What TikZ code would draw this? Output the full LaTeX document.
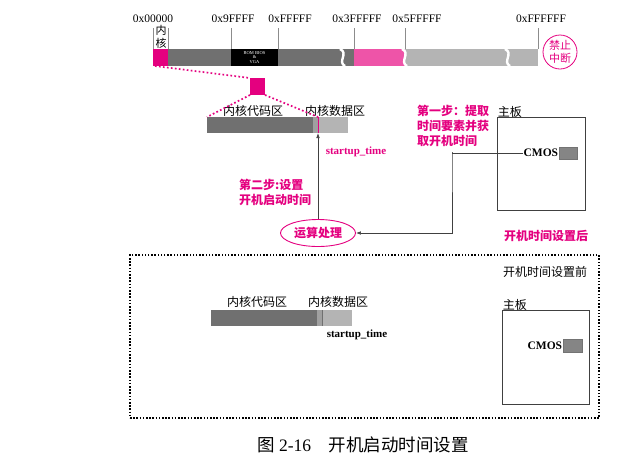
\documentclass[tikz,border=0pt]{standalone}
\usepackage{fontspec}
\setmainfont{Liberation Serif}
\newfontfamily\cjk{Noto Sans CJK SC}
\usepackage{xcolor}
\usetikzlibrary{arrows.meta,positioning,shapes.geometric}
\definecolor{kmag}{RGB}{228,0,127}
\definecolor{kpink}{RGB}{238,84,168}
\definecolor{dgray}{RGB}{112,112,112}
\definecolor{mgray}{RGB}{160,160,160}
\definecolor{lgray}{RGB}{180,180,180}

\begin{document}
\begin{tikzpicture}[
    x=1pt,y=-1pt,
    >={Latex[length=5pt,width=3.6pt]},
    seg/.style={inner sep=0pt,outer sep=0pt,minimum height=17pt,draw=none,anchor=west},
    bar/.style={seg,minimum height=16pt},
    tick/.style={draw=black!45,line width=0.6pt},
    brk/.style={draw=white,line width=2.4pt},
    hexlbl/.style={font=\fontsize{11.5}{12}\selectfont,inner sep=1pt},
    zone/.style={font=\cjk\fontsize{12}{13}\selectfont,inner sep=1pt},
    magtxt/.style={text=kmag,font=\cjk\bfseries\fontsize{12}{15}\selectfont,align=left,inner sep=1pt},
    magdot/.style={draw=kmag,line width=1.7pt,dash pattern=on 1.7pt off 2.3pt},
    flow/.style={->,draw=black!75,line width=0.7pt},
    board/.style={draw=black!75,line width=0.8pt,inner sep=0pt,minimum width=88pt,minimum height=93pt},
    chip/.style={fill=dgray!85,draw=black!55,inner sep=0pt,minimum width=18pt,minimum height=12pt},
    cmostxt/.style={font=\bfseries\fontsize{11.5}{12}\selectfont,inner sep=0.5pt}
  ]
    \useasboundingbox (0,0) rectangle (642,456);

    % address line
    \foreach \x in {153,168,231,278,354,405,538}
      \draw[tick] (\x,28) -- (\x,49);
    \foreach \x/\t in {153/0x00000,233/0x9FFFF,290/0xFFFFF,357/0x3FFFFF,417/0x5FFFFF,541/0xFFFFFF}
      \node[hexlbl] (hex\x) at (\x,19) {\t};
    \node[font=\cjk\fontsize{11}{12.5}\selectfont,align=center,inner sep=0pt] (kernlbl) at (161,37) {内\\核};

    \node[seg,fill=kmag,minimum width=15pt] (kern) at (153,57.5) {};
    \node[seg,fill=dgray,minimum width=186pt] (low) at (168,57.5) {};
    \node[seg,fill=black,minimum width=47pt,text=white,align=center,
      font=\fontsize{4.5}{4.6}\selectfont] (rom) at (231,57.5) {ROM BIOS\\\&\\VGA};
    \node[seg,fill=kpink,minimum width=51pt] (ext) at (354,57.5) {};
    \node[seg,fill=lgray,minimum width=133pt] (high) at (405,57.5) {};
    \foreach \x in {343,405,508}
      \draw[brk] (\x-3,49) .. controls (\x+6,53) and (\x-6,62) .. (\x+2,66);

    \node[circle,draw=kmag,line width=0.8pt,minimum size=34pt,inner sep=0pt,text=kmag,
      align=center,font=\cjk\fontsize{11}{12.5}\selectfont] (nmi) at (560,52) {禁止\\中断};

    % kernel close-up
    \node[seg,fill=kmag,minimum width=15pt,anchor=center] (zsq) at (257.5,86.5) {};

    \node[bar,fill=dgray,minimum width=106pt] (code2) at (207,125) {};
    \node[bar,fill=mgray,minimum width=5pt] (gap2) at (313,125) {};
    \node[bar,fill=lgray,minimum width=30pt] (data2) at (318,125) {};
    \draw[kmag,line width=1pt] (data2.north west) -- (data2.south west);
    \node[zone] (codelbl2) at (253,111) {内核代码区};
    \node[zone] (datalbl2) at (335,111) {内核数据区};

    \draw[magdot] ([xshift=2pt]kern.south west) -- (zsq.north west);
    \draw[magdot] (zsq.south west) -- (code2.north west);
    \draw[magdot] (zsq.south east) -- (data2.north west);

    \node[text=kmag,font=\bfseries\fontsize{11}{12}\selectfont,inner sep=0pt] (st2) at (356,152) {startup\_time};

    \node[ellipse,draw=kmag,line width=0.9pt,minimum width=75pt,minimum height=27pt,inner sep=0pt,
      text=kmag,font=\cjk\bfseries\fontsize{12}{13}\selectfont] (calc) at (318,233) {运算处理};
    \node[magtxt,anchor=west] (step2) at (238,192) {第二步:设置\\开机启动时间};

    \node[board] (board1) at (541,163.5) {};
    \node[zone,anchor=south west] (boardlbl1) at ([yshift=-2pt]board1.north west) {主板};
    \node[chip] (cmos1) at (568,153) {};
    \node[cmostxt,left=0pt of cmos1] (cmoslbl1) {CMOS};
    \coordinate (bend) at (452,152);
    \draw[flow] (cmoslbl1.west) -| (bend) |- (calc.east);
    \draw[flow] (calc.north) -- (data2.south west);
    \node[magtxt,anchor=north west] (step1) at (416,104) {第一步：提取\\时间要素并获\\取开机时间};
    \node[magtxt] (after) at (546,236) {开机时间设置后};

    % before setting
    \node[draw=black,line width=1.5pt,dash pattern=on 1.5pt off 1.7pt,inner sep=0pt,
      minimum width=469pt,minimum height=163pt] (before) at (364.5,336.5) {};
    \node[zone] (beforelbl) at (545,272) {开机时间设置前};

    \node[bar,fill=dgray,minimum width=106pt] (code3) at (211,318) {};
    \node[bar,fill=mgray,minimum width=5pt] (gap3) at (317,318) {};
    \node[bar,fill=lgray,minimum width=30pt] (data3) at (322,318) {};
    \draw[dgray,line width=1pt] (data3.north west) -- (data3.south west);
    \node[zone] (codelbl3) at (257,302) {内核代码区};
    \node[zone] (datalbl3) at (338,302) {内核数据区};
    \node[font=\bfseries\fontsize{11}{12}\selectfont,inner sep=0pt] (st3) at (357,335) {startup\_time};

    \node[board,minimum width=87pt,minimum height=94pt] (board2) at (545.5,357) {};
    \node[zone,anchor=south west] (boardlbl2) at ([yshift=-2pt]board2.north west) {主板};
    \node[chip,minimum width=19pt,minimum height=13pt] (cmos2) at (572.5,345.5) {};
    \node[cmostxt,left=0pt of cmos2] (cmoslbl2) {CMOS};

    \node[font=\fontsize{17.5}{18}\selectfont] (cap) at (363,445) {{\cjk 图} 2-16\quad{\cjk 开机启动时间设置}};
\end{tikzpicture}
\end{document}
